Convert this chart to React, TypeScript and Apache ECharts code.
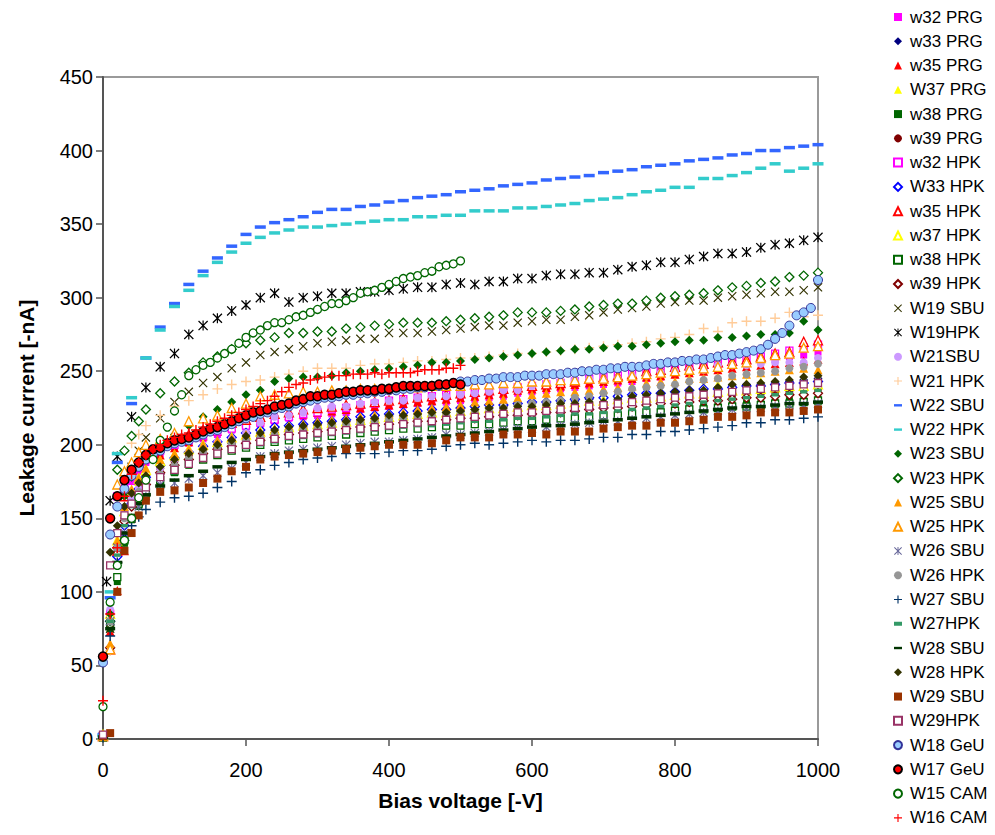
import React, { useEffect, useRef } from "react";
import * as echarts from "echarts";

// ---------- voltage grids (V) ----------
const VOLTS_STD = [0, 10, 20, 30, 40, 50, 60, 80, 100, 120, 140, 160, 180, 200, 220, 240, 260, 280, 300, 320, 340, 360, 380, 400, 420, 440, 460, 480, 500, 520, 540, 560, 580, 600, 620, 640, 660, 680, 700, 720, 740, 760, 780, 800, 820, 840, 860, 880, 900, 920, 940, 960, 980, 1000];
const VOLTS_W22 = [0, 10, 20, 40, 60, 80, 100, 120, 140, 160, 180, 200, 220, 240, 260, 280, 300, 320, 340, 360, 380, 400, 420, 440, 460, 480, 500, 520, 540, 560, 580, 600, 620, 640, 660, 680, 700, 720, 740, 760, 780, 800, 820, 840, 860, 880, 900, 920, 940, 960, 980, 1000];
const VOLTS_W19HPK = [5, 10, 20, 40, 60, 80, 100, 120, 140, 160, 180, 200, 220, 240, 260, 280, 300, 320, 340, 360, 380, 400, 420, 440, 460, 480, 500, 520, 540, 560, 580, 600, 620, 640, 660, 680, 700, 720, 740, 760, 780, 800, 820, 840, 860, 880, 900, 920, 940, 960, 980, 1000];
const VOLTS_CAM = [0, 10, 20, 30, 40, 50, 60, 70, 80, 90, 100, 110, 120, 130, 140, 150, 160, 170, 180, 190, 200, 210, 220, 230, 240, 250, 260, 270, 280, 290, 300, 310, 320, 330, 340, 350, 360, 370, 380, 390, 400, 410, 420, 430, 440, 450, 460, 470, 480, 490, 500];
const VOLTS_W18 = [0, 10, 20, 30, 40, 50, 60, 70, 80, 90, 100, 110, 120, 130, 140, 150, 160, 170, 180, 190, 200, 210, 220, 230, 240, 250, 260, 270, 280, 290, 300, 310, 320, 330, 340, 350, 360, 370, 380, 390, 400, 410, 420, 430, 440, 450, 460, 470, 480, 490, 500, 510, 520, 530, 540, 550, 560, 570, 580, 590, 600, 610, 620, 630, 640, 650, 660, 670, 680, 690, 700, 710, 720, 730, 740, 750, 760, 770, 780, 790, 800, 810, 820, 830, 840, 850, 860, 870, 880, 890, 900, 910, 920, 930, 940, 950, 960, 970, 980, 990, 1000];

// ---------- leakage current (-nA) ----------
const W32_PRG = [3, 84, 165, 171, 175, 182, 188, 194, 198, 201, 204, 207, 210, 212, 214, 216, 218, 219, 220, 221, 222, 224, 225, 226, 227, 228, 229, 229, 230, 231, 232, 233, 235, 236, 237, 238, 239, 240, 241, 242, 243, 245, 246, 248, 249, 251, 252, 254, 255, 257, 258, 260, 261, 263];
const W33_PRG = [2, 78, 141, 139, 150, 160, 170, 180, 186, 190, 194, 198, 201, 204, 206, 208, 210, 212, 213, 214, 216, 217, 218, 219, 220, 221, 222, 222, 223, 224, 225, 226, 227, 228, 228, 229, 230, 231, 232, 232, 233, 234, 235, 236, 237, 238, 239, 240, 241, 241, 242, 243, 244, 245];
const W35_PRG = [2, 73, 101, 128, 150, 168, 182, 193, 198, 202, 206, 209, 212, 215, 217, 218, 220, 221, 222, 223, 224, 225, 226, 227, 228, 229, 230, 231, 232, 233, 234, 235, 237, 238, 239, 240, 241, 242, 243, 244, 245, 246, 247, 248, 249, 250, 251, 252, 253, 254, 255, 256, 257, 258];
const W37_PRG = [3, 86, 128, 150, 165, 175, 182, 188, 192, 196, 199, 202, 204, 206, 208, 210, 212, 213, 215, 216, 217, 218, 220, 221, 222, 223, 224, 225, 226, 227, 228, 229, 230, 230, 231, 232, 233, 234, 235, 235, 236, 237, 237, 238, 239, 240, 241, 241, 242, 243, 243, 244, 245, 246];
const W38_PRG = [2, 75, 107, 133, 149, 158, 165, 175, 181, 186, 190, 193, 196, 199, 201, 203, 204, 205, 206, 207, 208, 209, 210, 211, 212, 212, 213, 214, 214, 215, 216, 216, 217, 218, 218, 219, 220, 220, 221, 222, 222, 223, 224, 224, 225, 226, 226, 227, 228, 228, 229, 230, 230, 231];
const W39_PRG = [3, 82, 140, 150, 160, 168, 175, 184, 189, 193, 196, 199, 201, 203, 205, 207, 209, 210, 211, 212, 213, 215, 216, 217, 218, 218, 219, 220, 220, 221, 222, 223, 223, 224, 225, 225, 226, 227, 228, 228, 229, 230, 231, 231, 232, 232, 233, 234, 235, 235, 236, 236, 237, 238];
const W32_HPK = [2, 85, 165, 170, 178, 185, 190, 196, 200, 203, 206, 209, 211, 213, 215, 217, 219, 221, 222, 224, 225, 227, 228, 230, 231, 232, 233, 234, 235, 236, 237, 238, 239, 240, 241, 242, 243, 245, 246, 247, 248, 249, 250, 252, 253, 254, 256, 257, 259, 260, 262, 264, 266, 268];
const W33_HPK = [2, 80, 124, 145, 160, 170, 178, 186, 191, 195, 199, 202, 205, 208, 210, 212, 213, 214, 215, 216, 217, 219, 220, 221, 222, 223, 224, 224, 225, 226, 227, 227, 228, 229, 229, 230, 231, 232, 232, 233, 234, 235, 235, 236, 237, 238, 238, 239, 240, 240, 241, 242, 242, 243];
const W35_HPK = [2, 61, 128, 165, 180, 188, 195, 200, 204, 207, 210, 213, 215, 217, 219, 221, 222, 224, 225, 226, 227, 228, 229, 230, 231, 232, 233, 234, 235, 236, 237, 238, 239, 240, 241, 242, 243, 245, 246, 247, 248, 250, 251, 253, 254, 255, 256, 257, 258, 260, 262, 263, 270, 271];
const W37_HPK = [3, 85, 135, 155, 168, 177, 183, 189, 193, 197, 200, 202, 205, 207, 209, 210, 212, 213, 214, 215, 216, 217, 218, 219, 220, 221, 222, 222, 223, 224, 225, 225, 226, 227, 227, 228, 229, 230, 230, 231, 232, 232, 233, 234, 235, 235, 236, 237, 237, 238, 239, 240, 240, 241];
const W38_HPK = [1, 77, 110, 135, 150, 160, 167, 176, 182, 187, 190, 193, 196, 198, 200, 202, 203, 204, 205, 206, 207, 208, 209, 210, 211, 211, 212, 213, 213, 214, 214, 215, 216, 216, 217, 218, 218, 219, 220, 220, 221, 222, 222, 223, 224, 224, 225, 226, 226, 227, 228, 228, 229, 230];
const W39_HPK = [2, 62, 130, 148, 158, 166, 173, 181, 186, 190, 194, 197, 199, 201, 203, 205, 207, 208, 209, 210, 211, 212, 213, 214, 215, 216, 216, 217, 218, 218, 219, 220, 220, 221, 222, 222, 223, 224, 225, 225, 226, 227, 228, 228, 229, 230, 230, 231, 232, 232, 233, 234, 234, 235];
const W19_SBU = [2, 75, 130, 165, 185, 196, 205, 218, 229, 236, 242, 246, 252, 256, 261, 263, 265, 267, 269, 270, 271, 272, 272, 276, 276, 276, 277, 278, 279, 280, 281, 281, 283, 284, 285, 285, 287, 288, 290, 292, 293, 294, 296, 297, 298, 298, 300, 301, 302, 303, 304, 304, 305, 307];
const W19_HPK = [107, 162, 192, 219, 239, 253, 262, 275, 281, 286, 291, 295, 300, 303, 297, 300, 301, 303, 303, 304, 304, 305, 306, 307, 307, 309, 310, 309, 311, 311, 313, 313, 315, 316, 316, 317, 317, 319, 321, 322, 324, 324, 326, 328, 330, 330, 331, 334, 336, 337, 339, 341];
const W21_SBU = [2, 88, 140, 155, 163, 170, 175, 184, 190, 195, 198, 202, 204, 208, 215, 219, 220, 222, 225, 226, 226, 228, 229, 230, 230, 232, 233, 233, 234, 235, 236, 237, 237, 240, 242, 243, 244, 245, 244, 245, 247, 247, 249, 250, 251, 251, 254, 254, 254, 255, 256, 256, 256, 259];
const W21_HPK = [2, 60, 120, 170, 201, 207, 213, 220, 226, 230, 234, 238, 241, 243, 244, 246, 248, 250, 252, 252, 252, 254, 255, 255, 256, 257, 257, 258, 259, 259, 260, 261, 262, 262, 263, 264, 265, 266, 267, 268, 269, 270, 272, 273, 275, 279, 277, 283, 284, 284, 286, 290, 287, 288];
const W22_SBU = [3, 96, 188, 228, 259, 280, 296, 309, 318, 327, 335, 343, 348, 351, 353, 355, 358, 360, 360, 362, 363, 365, 366, 368, 369, 370, 372, 373, 374, 376, 377, 378, 380, 381, 382, 383, 385, 386, 387, 389, 390, 391, 393, 394, 395, 397, 398, 400, 400, 402, 403, 404];
const W22_HPK = [2, 100, 194, 232, 259, 278, 294, 305, 315, 324, 331, 337, 341, 344, 346, 348, 348, 349, 350, 351, 352, 353, 353, 355, 355, 356, 356, 359, 359, 359, 361, 361, 362, 363, 364, 366, 367, 368, 370, 372, 373, 375, 375, 381, 381, 383, 385, 388, 391, 386, 388, 391];
const W23_SBU = [1, 85, 140, 165, 178, 187, 193, 200, 207, 213, 219, 224, 229, 234, 237, 243, 245, 246, 246, 247, 249, 250, 251, 252, 253, 254, 256, 256, 257, 258, 259, 260, 261, 262, 263, 264, 265, 265, 266, 267, 267, 268, 269, 270, 271, 271, 273, 273, 274, 275, 275, 276, 284, 278];
const W23_HPK = [2, 80, 183, 196, 206, 216, 224, 235, 243, 249, 256, 260, 265, 269, 271, 273, 276, 276, 277, 277, 279, 280, 281, 282, 283, 283, 283, 284, 285, 286, 287, 288, 290, 290, 290, 291, 292, 294, 295, 296, 296, 298, 300, 301, 302, 303, 305, 307, 308, 310, 311, 314, 315, 317];
const W25_SBU = [3, 65, 135, 158, 170, 178, 184, 190, 194, 197, 200, 203, 205, 207, 209, 211, 213, 214, 216, 217, 218, 219, 220, 221, 222, 224, 225, 226, 227, 229, 230, 231, 232, 234, 235, 236, 236, 237, 238, 239, 240, 242, 243, 243, 245, 245, 246, 247, 248, 249, 250, 251, 252, 251];
const W25_HPK = [2, 61, 173, 182, 188, 195, 200, 204, 208, 216, 218, 220, 225, 228, 233, 234, 235, 236, 236, 237, 237, 238, 238, 238, 239, 239, 240, 240, 240, 241, 241, 242, 242, 243, 243, 244, 244, 245, 245, 246, 247, 248, 249, 250, 251, 252, 253, 255, 256, 259, 261, 262, 266, 267];
const W26_SBU = [2, 80, 130, 140, 150, 158, 165, 173, 174, 177, 179, 181, 184, 188, 192, 194, 196, 197, 198, 199, 200, 201, 202, 202, 203, 204, 205, 207, 207, 208, 209, 210, 211, 211, 212, 213, 214, 215, 216, 216, 217, 218, 219, 220, 221, 222, 223, 224, 225, 225, 226, 227, 227, 228];
const W26_HPK = [2, 80, 130, 150, 160, 168, 172, 180, 186, 191, 195, 198, 201, 203, 205, 207, 209, 210, 211, 213, 214, 215, 216, 217, 218, 219, 220, 221, 222, 223, 224, 225, 227, 228, 229, 230, 232, 233, 235, 236, 238, 239, 240, 241, 243, 244, 245, 247, 248, 249, 250, 252, 253, 255];
const W27_SBU = [1, 70, 120, 135, 145, 151, 156, 161, 164, 165, 167, 171, 175, 181, 183, 186, 188, 190, 191, 192, 194, 194, 194, 195, 196, 196, 197, 199, 200, 201, 200, 201, 202, 203, 202, 203, 203, 204, 205, 205, 207, 207, 209, 209, 210, 211, 212, 213, 215, 215, 217, 217, 218, 219];
const W27_HPK = [2, 80, 125, 145, 158, 167, 172, 178, 181, 186, 190, 193, 196, 198, 200, 202, 204, 205, 206, 207, 208, 209, 210, 211, 212, 213, 213, 214, 215, 216, 216, 217, 218, 218, 219, 220, 221, 221, 222, 223, 224, 225, 226, 227, 228, 229, 230, 231, 232, 233, 234, 235, 236, 237];
const W28_SBU = [1, 75, 120, 140, 152, 160, 166, 172, 176, 179, 182, 185, 188, 190, 192, 194, 195, 196, 197, 198, 199, 200, 201, 202, 203, 204, 205, 206, 207, 208, 209, 210, 211, 212, 213, 213, 214, 215, 216, 217, 218, 219, 220, 221, 222, 223, 224, 225, 226, 226, 227, 228, 228, 229];
const W28_HPK = [2, 127, 145, 158, 167, 174, 179, 185, 190, 194, 197, 200, 203, 206, 208, 210, 212, 213, 214, 215, 216, 217, 218, 220, 220, 221, 222, 222, 223, 224, 225, 225, 226, 226, 227, 228, 228, 229, 229, 231, 233, 234, 235, 236, 237, 237, 239, 241, 241, 242, 243, 244, 246, 247];
const W29_SBU = [2, 4, 100, 128, 140, 152, 162, 168, 169, 171, 174, 177, 182, 185, 190, 192, 193, 194, 195, 196, 197, 198, 199, 200, 200, 200, 201, 203, 205, 205, 205, 207, 207, 208, 207, 209, 209, 209, 211, 212, 213, 213, 215, 215, 216, 217, 219, 219, 220, 222, 222, 222, 223, 224];
const W29_HPK = [3, 118, 140, 152, 160, 166, 171, 178, 183, 187, 191, 194, 197, 200, 202, 204, 206, 207, 208, 209, 210, 211, 212, 213, 214, 215, 216, 217, 218, 219, 220, 221, 222, 222, 223, 224, 225, 226, 227, 228, 229, 230, 231, 232, 233, 234, 235, 236, 237, 238, 239, 240, 241, 242];
const W18_GEU = [52, 139, 158, 170, 179, 185, 190, 194, 196, 199, 201, 202, 203, 205, 207, 209, 210, 212, 214, 216, 218, 219, 221, 222, 224, 225, 226, 228, 229, 230, 231, 232, 232, 233, 234, 234, 235, 235, 236, 236, 237, 237, 238, 238, 239, 239, 240, 240, 241, 242, 243, 243, 244, 244, 245, 245, 246, 246, 246, 247, 247, 247, 248, 248, 248, 249, 249, 250, 250, 251, 251, 252, 252, 253, 253, 253, 254, 255, 255, 256, 256, 257, 257, 258, 258, 259, 260, 261, 261, 262, 263, 264, 265, 268, 272, 276, 281, 288, 290, 293, 312];
const W17_GEU = [56, 150, 165, 176, 183, 188, 193, 197, 198, 201, 203, 204, 205, 207, 209, 211, 212, 214, 216, 218, 220, 222, 223, 224, 226, 227, 228, 230, 231, 233, 233, 234, 234, 235, 236, 236, 237, 237, 237, 238, 238, 239, 240, 240, 240, 240, 240, 241, 241, 242, 241];
const W15_CAM = [22, 93, 118, 135, 150, 164, 176, 190, 203, 212, 223, 234, 247, 251, 254, 256, 259, 262, 265, 269, 273, 276, 278, 281, 283, 283, 285, 287, 288, 290, 292, 294, 296, 296, 298, 300, 303, 304, 305, 307, 309, 311, 313, 314, 315, 317, 318, 321, 322, 323, 325];
const W16_CAM = [26, 85, 130, 165, 180, 188, 193, 197, 200, 203, 205, 207, 208, 210, 212, 214, 216, 218, 220, 222, 224, 226, 228, 230, 233, 236, 239, 241, 242, 244, 245, 246, 247, 247, 247, 248, 248, 248, 249, 248, 249, 249, 249, 249, 250, 251, 251, 251, 252, 252, 254];

const Y_TICKS = { min: 0, max: 450, step: 50 };
const X_TICKS = { min: 0, max: 1000, step: 200 };

// ---------- marker shapes ----------
const PLUS = "path://M4.3,0H5.7V4.3H10V5.7H5.7V10H4.3V5.7H0V4.3H4.3Z";
const CROSS = "path://M0,0.9L0.9,0L5,4.1L9.1,0L10,0.9L5.9,5L10,9.1L9.1,10L5,5.9L0.9,10L0,9.1L4.1,5Z";
const STAR = "path://M0,0.9L0.9,0L5,4.1L9.1,0L10,0.9L5.9,5L10,9.1L9.1,10L5,5.9L0.9,10L0,9.1L4.1,5Z M4.4,0H5.6V10H4.4Z";
const DASH = "path://M0,0H10V3H0Z";
const SHORT_DASH = "path://M0,0H6V3H0Z";

type Sty = { symbol: string; size: number | number[]; color: string; border?: string; bw?: number };

const SERIES: { name: string; x: number[]; y: number[]; s: Sty }[] = [
  { name: "w32 PRG", x: VOLTS_STD, y: W32_PRG, s: { symbol: "rect", size: 7, color: "#FF00FF" } },
  { name: "w33 PRG", x: VOLTS_STD, y: W33_PRG, s: { symbol: "diamond", size: 9, color: "#000080" } },
  { name: "w35 PRG", x: VOLTS_STD, y: W35_PRG, s: { symbol: "triangle", size: 9, color: "#FF0000" } },
  { name: "W37 PRG", x: VOLTS_STD, y: W37_PRG, s: { symbol: "triangle", size: 9, color: "#FFFF00" } },
  { name: "w38 PRG", x: VOLTS_STD, y: W38_PRG, s: { symbol: "rect", size: 7, color: "#006600" } },
  { name: "w39 PRG", x: VOLTS_STD, y: W39_PRG, s: { symbol: "circle", size: 8, color: "#800000" } },
  { name: "w32 HPK", x: VOLTS_STD, y: W32_HPK, s: { symbol: "rect", size: 7, color: "#FFFFFF", border: "#FF00FF", bw: 1.3 } },
  { name: "W33 HPK", x: VOLTS_STD, y: W33_HPK, s: { symbol: "diamond", size: 9, color: "#FFFFFF", border: "#0000FF", bw: 1.3 } },
  { name: "w35 HPK", x: VOLTS_STD, y: W35_HPK, s: { symbol: "triangle", size: 9, color: "#FFFFFF", border: "#FF0000", bw: 1.3 } },
  { name: "w37 HPK", x: VOLTS_STD, y: W37_HPK, s: { symbol: "triangle", size: 9, color: "#FFFFFF", border: "#FFFF00", bw: 1.3 } },
  { name: "w38 HPK", x: VOLTS_STD, y: W38_HPK, s: { symbol: "rect", size: 7, color: "#FFFFFF", border: "#006600", bw: 1.3 } },
  { name: "w39 HPK", x: VOLTS_STD, y: W39_HPK, s: { symbol: "diamond", size: 9, color: "#FFFFFF", border: "#800000", bw: 1.3 } },
  { name: "W19 SBU", x: VOLTS_STD, y: W19_SBU, s: { symbol: CROSS, size: 9, color: "#333300" } },
  { name: "W19HPK", x: VOLTS_W19HPK, y: W19_HPK, s: { symbol: STAR, size: 10, color: "#000000" } },
  { name: "W21SBU", x: VOLTS_STD, y: W21_SBU, s: { symbol: "circle", size: 8, color: "#CC99FF" } },
  { name: "W21 HPK", x: VOLTS_STD, y: W21_HPK, s: { symbol: PLUS, size: 10, color: "#FFCC99" } },
  { name: "W22 SBU", x: VOLTS_W22, y: W22_SBU, s: { symbol: DASH, size: [11, 3.5], color: "#3366FF" } },
  { name: "W22 HPK", x: VOLTS_W22, y: W22_HPK, s: { symbol: DASH, size: [11, 3.5], color: "#33CCCC" } },
  { name: "W23 SBU", x: VOLTS_STD, y: W23_SBU, s: { symbol: "diamond", size: 9, color: "#006600" } },
  { name: "W23 HPK", x: VOLTS_STD, y: W23_HPK, s: { symbol: "diamond", size: 9, color: "#FFFFFF", border: "#006600", bw: 1.3 } },
  { name: "W25 SBU", x: VOLTS_STD, y: W25_SBU, s: { symbol: "triangle", size: 9, color: "#FF9900" } },
  { name: "W25 HPK", x: VOLTS_STD, y: W25_HPK, s: { symbol: "triangle", size: 9, color: "#FFFFFF", border: "#FF9900", bw: 1.3 } },
  { name: "W26 SBU", x: VOLTS_STD, y: W26_SBU, s: { symbol: STAR, size: 9, color: "#666699" } },
  { name: "W26 HPK", x: VOLTS_STD, y: W26_HPK, s: { symbol: "circle", size: 8, color: "#969696" } },
  { name: "W27 SBU", x: VOLTS_STD, y: W27_SBU, s: { symbol: PLUS, size: 10, color: "#003366" } },
  { name: "W27HPK", x: VOLTS_STD, y: W27_HPK, s: { symbol: SHORT_DASH, size: [7, 3.5], color: "#339966" } },
  { name: "W28 SBU", x: VOLTS_STD, y: W28_SBU, s: { symbol: DASH, size: [10, 3.5], color: "#003300" } },
  { name: "W28 HPK", x: VOLTS_STD, y: W28_HPK, s: { symbol: "diamond", size: 9, color: "#333300" } },
  { name: "W29 SBU", x: VOLTS_STD, y: W29_SBU, s: { symbol: "rect", size: 8, color: "#993300" } },
  { name: "W29HPK", x: VOLTS_STD, y: W29_HPK, s: { symbol: "rect", size: 7, color: "#FFFFFF", border: "#993366", bw: 1.3 } },
  { name: "W18 GeU", x: VOLTS_W18, y: W18_GEU, s: { symbol: "circle", size: 9, color: "#99CCFF", border: "#333399", bw: 1 } },
  { name: "W17 GeU", x: VOLTS_CAM, y: W17_GEU, s: { symbol: "circle", size: 9, color: "#FF0000", border: "#000000", bw: 1.5 } },
  { name: "W15 CAM", x: VOLTS_CAM, y: W15_CAM, s: { symbol: "circle", size: 8, color: "#FFFFFF", border: "#006600", bw: 1.3 } },
  { name: "W16 CAM", x: VOLTS_CAM, y: W16_CAM, s: { symbol: PLUS, size: 10, color: "#FF0000" } },
];

const FONT = "'Liberation Sans', Arial, sans-serif";

export default function App() {
  const ref = useRef<HTMLDivElement>(null);

  useEffect(() => {
    if (!ref.current) return;
    const chart = echarts.init(ref.current, undefined, { renderer: "svg" });

    const series = SERIES.map((d) => ({
      type: "scatter",
      name: d.name,
      data: d.x.map((v, i) => [v, d.y[i]]),
      symbol: d.s.symbol,
      symbolSize: d.s.size,
      silent: true,
      itemStyle: {
        color: d.s.color,
        opacity: 1,
        borderColor: d.s.border || d.s.color,
        borderWidth: d.s.bw || 0,
      },
      emphasis: { disabled: true },
    }));

    chart.setOption({
      animation: false,
      backgroundColor: "#FFFFFF",
      textStyle: { fontFamily: FONT },
      grid: {
        left: 103,
        top: 77,
        width: 715,
        height: 662,
        show: true,
        borderColor: "#9A9A9A",
        borderWidth: 2,
      },
      legend: {
        orient: "vertical",
        left: 888,
        top: 3.5,
        itemWidth: 8,
        itemHeight: 8,
        itemGap: 7.27,
        selectedMode: false,
        data: SERIES.map((d) => d.name),
        textStyle: { fontSize: 17, color: "#000000", fontFamily: FONT, padding: [0, 0, 0, 3] },
      },
      xAxis: {
        type: "value",
        min: X_TICKS.min,
        max: X_TICKS.max,
        interval: X_TICKS.step,
        name: "Bias voltage [-V]",
        nameLocation: "middle",
        nameGap: 51,
        nameTextStyle: { fontSize: 21, fontWeight: "bold", color: "#000000", fontFamily: FONT },
        axisLine: { show: true, onZero: false, lineStyle: { color: "#555555", width: 2 } },
        axisTick: { show: true, length: 7, lineStyle: { color: "#555555", width: 1.5 } },
        axisLabel: {
          fontSize: 20,
          color: "#000000",
          margin: 21,
          fontFamily: FONT,
          formatter: (v: number) => String(v),
        },
        splitLine: { show: false },
      },
      yAxis: {
        type: "value",
        min: Y_TICKS.min,
        max: Y_TICKS.max,
        interval: Y_TICKS.step,
        name: "Leakage current [-nA]",
        nameLocation: "middle",
        nameRotate: 90,
        nameGap: 66,
        nameTextStyle: { fontSize: 21, fontWeight: "bold", color: "#000000", fontFamily: FONT },
        axisLine: { show: true, onZero: false, lineStyle: { color: "#555555", width: 2 } },
        axisTick: { show: true, length: 7, lineStyle: { color: "#555555", width: 1.5 } },
        axisLabel: {
          fontSize: 20,
          color: "#000000",
          margin: 10,
          fontFamily: FONT,
          formatter: (v: number) => String(v),
        },
        splitLine: { show: false },
      },
      series,
    });

    return () => chart.dispose();
  }, []);

  return (
    <div
      ref={ref}
      style={{ position: "absolute", left: 0, top: 0, width: 995, height: 835, background: "#FFFFFF" }}
    />
  );
}
